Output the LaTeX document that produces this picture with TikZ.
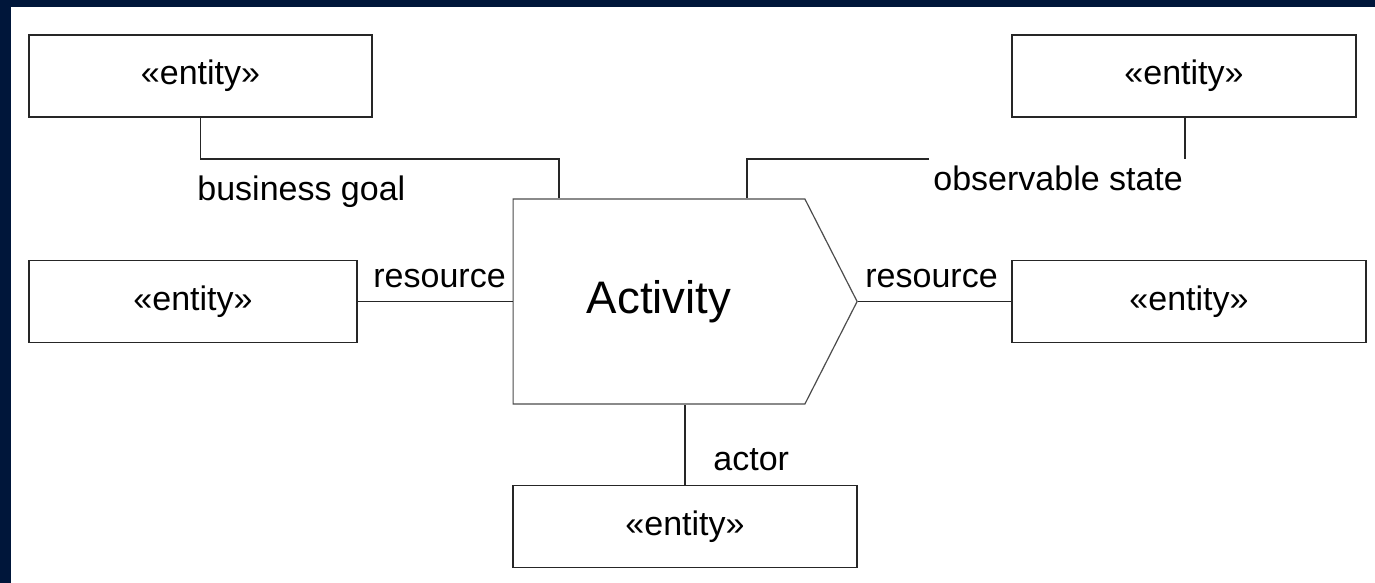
\documentclass[tikz,border=0pt]{standalone}
\usepackage{fontspec}
\setmainfont{Liberation Sans}
\usetikzlibrary{shapes.symbols}
\definecolor{framenavy}{RGB}{0,22,58}
\begin{document}
\begin{tikzpicture}[x=0.5pt,y=-0.5pt,
entity/.style={draw=black!85,line width=0.6pt,rectangle,inner sep=0pt,
  minimum height=41pt,font=\fontsize{17}{20}\selectfont},
activity/.style={draw=black!70,line width=0.6pt,signal,signal to=east,
  signal pointer angle=126,inner sep=0pt,minimum width=172pt,minimum height=102.5pt,
  font=\fontsize{22.8}{26}\selectfont},
role/.style={anchor=base west,inner sep=0pt,font=\fontsize{17}{20}\selectfont},
link/.style={draw=black!85,line width=0.6pt}]
% frame
\fill[framenavy] (0,0) rectangle (1375,583);
\fill[white] (11,7) rectangle (1375,583);
\useasboundingbox (0,0) rectangle (1375,583);

\node[activity] (act) at (659,301.5) {Activity};

\node[entity,minimum width=171.5pt] (goal)  at (200.5,76)  {«entity»};
\node[entity,minimum width=172pt]   (state) at (1184,76)   {«entity»};
\node[entity,minimum width=164pt]   (resL)  at (193,301.5) {«entity»};
\node[entity,minimum width=177pt]   (resR)  at (1189,301.5) {«entity»};
\node[entity,minimum width=172pt]   (actor) at (685,526.5) {«entity»};

\coordinate (goalJ)  at (559,159);
\coordinate (stateT) at (1185,159);
\coordinate (stateA) at (929,159);
\coordinate (stateB) at (747,159);

\draw[link] (goal.south) |- (goalJ) -- (goalJ |- act.north);
\draw[link] (state.south -| stateT) -- (stateT);
\draw[link] (stateA) -- (stateB) -- (stateB |- act.north);
\draw[link] (resL.east) -- (act.west);
\draw[link] (act.east) -- (resR.west);
\draw[link] (actor.north) -- (actor.north |- act.south);

\node[role] (goalL)  at (197,200) {business goal};
\node[role] (stateL) at (933,190) {observable state};
\node[role] (resLL)  at (373,287) {resource};
\node[role] (resRL)  at (865,287) {resource};
\node[role] (actorL) at (713,470) {actor};
\end{tikzpicture}
\end{document}
